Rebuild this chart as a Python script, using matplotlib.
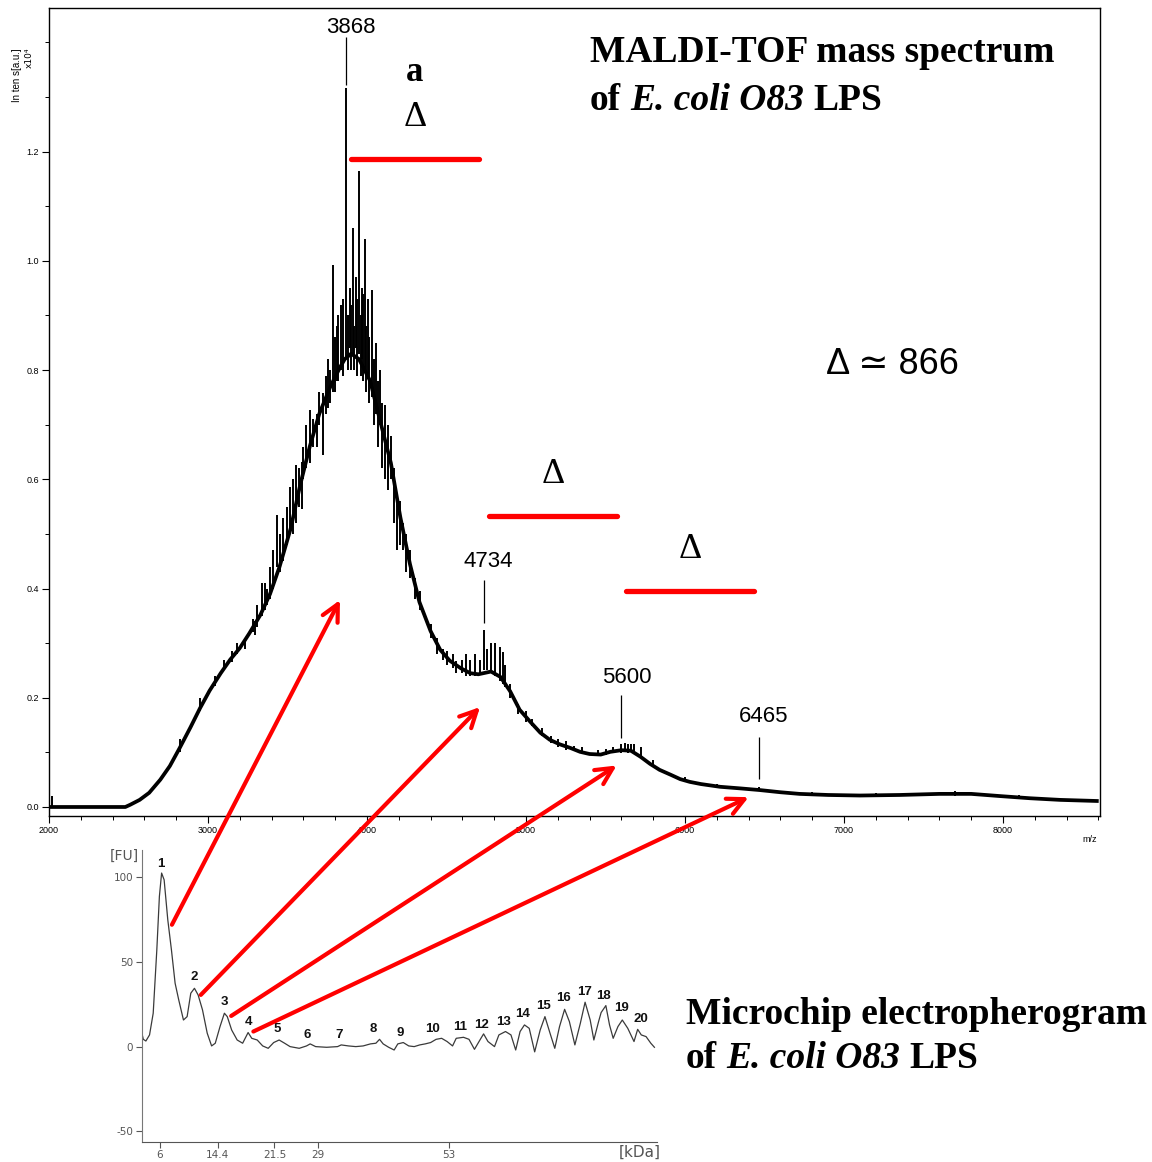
import numpy as np
import matplotlib
matplotlib.use('Agg')
import matplotlib.pyplot as plt
from matplotlib.patches import ConnectionPatch
from matplotlib.ticker import MultipleLocator

# --- MALDI-TOF spectrum: smooth envelope (m/z, intensity x1e4) ---
env_mz = [2000, 2480, 2510, 2570, 2630, 2700, 2760, 2820, 2890, 2950, 3010, 3080,
          3140, 3200, 3260, 3330, 3390, 3450, 3520, 3580, 3640, 3700, 3770, 3830,
          3860, 3900, 3950, 4020, 4080, 4150, 4210, 4270, 4330, 4400, 4460, 4520,
          4590, 4650, 4700, 4780, 4840, 4900, 4960, 5030, 5090, 5150, 5210, 5280,
          5340, 5400, 5470, 5530, 5600, 5660, 5720, 5780, 5840, 5910, 5970, 6030,
          6100, 6220, 6350, 6470, 6600, 6720, 6900, 7100, 7350, 7600, 7800, 7980,
          8170, 8360, 8590]
env_int = [0.0, 0.0, 0.004, 0.013, 0.026, 0.050, 0.075, 0.107, 0.146, 0.181, 0.213, 0.245,
           0.270, 0.291, 0.318, 0.352, 0.390, 0.440, 0.510, 0.590, 0.660, 0.720, 0.770, 0.805,
           0.820, 0.830, 0.820, 0.780, 0.710, 0.630, 0.530, 0.445, 0.375, 0.322, 0.288, 0.268,
           0.254, 0.245, 0.243, 0.248, 0.238, 0.212, 0.178, 0.155, 0.136, 0.123, 0.115, 0.108,
           0.101, 0.097, 0.096, 0.101, 0.104, 0.103, 0.092, 0.079, 0.068, 0.059, 0.051, 0.046,
           0.042, 0.037, 0.034, 0.031, 0.027, 0.024, 0.022, 0.021, 0.022, 0.024, 0.024, 0.020,
           0.016, 0.013, 0.011]

# --- individual spikes on top of the envelope (m/z, low, high) ---
spike_mz = [2003, 2020, 2824, 2950, 3044, 3100, 3151, 3180, 3233, 3280, 3296, 3310,
            3340, 3358, 3370, 3390, 3410, 3434, 3450, 3472, 3495, 3516, 3535, 3553,
            3570, 3591, 3600, 3615, 3642, 3660, 3686, 3700, 3723, 3740, 3755, 3767,
            3786, 3800, 3811, 3820, 3836, 3850, 3868, 3880, 3893, 3900, 3912, 3920,
            3931, 3940, 3950, 3960, 3969, 3975, 3987, 3995, 4006, 4015, 4031, 4045,
            4057, 4070, 4082, 4095, 4113, 4130, 4151, 4170, 4189, 4205, 4226, 4245,
            4270, 4300, 4333, 4400, 4440, 4480, 4500, 4540, 4560, 4600, 4620, 4648,
            4679, 4711, 4736, 4755, 4780, 4805, 4836, 4855, 4868, 4900, 4950, 5000,
            5040, 5100, 5160, 5200, 5250, 5300, 5350, 5450, 5500, 5550, 5597, 5620,
            5640, 5660, 5680, 5722, 5800, 6000, 6200, 6465, 6800, 7200, 7700, 8100]
spike_lo = [0.000, 0.000, 0.100, 0.175, 0.222, 0.250, 0.265, 0.280, 0.290, 0.320, 0.315, 0.330,
            0.350, 0.360, 0.370, 0.380, 0.400, 0.440, 0.430, 0.450, 0.480, 0.500, 0.500, 0.520,
            0.550, 0.545, 0.600, 0.620, 0.630, 0.660, 0.660, 0.700, 0.645, 0.720, 0.730, 0.740,
            0.760, 0.760, 0.780, 0.780, 0.800, 0.790, 0.820, 0.800, 0.840, 0.800, 0.830, 0.800,
            0.840, 0.790, 0.830, 0.790, 0.820, 0.780, 0.800, 0.760, 0.790, 0.740, 0.750, 0.700,
            0.720, 0.660, 0.700, 0.620, 0.600, 0.580, 0.600, 0.520, 0.470, 0.480, 0.470, 0.430,
            0.420, 0.380, 0.360, 0.310, 0.280, 0.270, 0.260, 0.255, 0.245, 0.245, 0.240, 0.240,
            0.240, 0.245, 0.250, 0.250, 0.250, 0.240, 0.230, 0.225, 0.220, 0.200, 0.170, 0.155,
            0.148, 0.130, 0.118, 0.110, 0.105, 0.104, 0.098, 0.094, 0.095, 0.098, 0.098, 0.100,
            0.098, 0.100, 0.098, 0.094, 0.074, 0.045, 0.035, 0.029, 0.021, 0.019, 0.021, 0.016]
spike_hi = [0.456, 0.020, 0.125, 0.200, 0.240, 0.270, 0.285, 0.300, 0.310, 0.345, 0.340, 0.370,
            0.410, 0.410, 0.400, 0.440, 0.470, 0.535, 0.500, 0.530, 0.550, 0.586, 0.600, 0.626,
            0.620, 0.632, 0.660, 0.700, 0.727, 0.710, 0.720, 0.760, 0.758, 0.790, 0.820, 0.800,
            0.993, 0.860, 0.880, 0.900, 0.920, 0.930, 1.317, 0.900, 0.950, 0.920, 1.060, 0.880,
            0.970, 0.930, 1.165, 0.900, 0.950, 0.940, 1.040, 0.880, 0.930, 0.860, 0.947, 0.820,
            0.850, 0.780, 0.800, 0.740, 0.736, 0.700, 0.680, 0.620, 0.560, 0.560, 0.520, 0.500,
            0.470, 0.420, 0.395, 0.335, 0.310, 0.290, 0.285, 0.280, 0.268, 0.270, 0.280, 0.270,
            0.280, 0.270, 0.324, 0.290, 0.300, 0.300, 0.293, 0.284, 0.260, 0.225, 0.188, 0.175,
            0.162, 0.145, 0.130, 0.125, 0.120, 0.112, 0.110, 0.104, 0.107, 0.110, 0.115, 0.118,
            0.115, 0.115, 0.115, 0.110, 0.086, 0.054, 0.042, 0.036, 0.028, 0.026, 0.029, 0.022]

# --- labelled peaks ---
peak_mz = [3868, 4734, 5600, 6465]
peak_line_lo = [1.322, 0.337, 0.126, 0.051]
peak_line_hi = [1.410, 0.416, 0.205, 0.128]
peak_text_y = [1.428, 0.449, 0.238, 0.165]

# --- delta bars (repeat unit) ---
delta_start = [3899, 4767, 5629]
delta_end = [4704, 5572, 6434]
delta_y = [1.187, 0.533, 0.396]
delta_text_y = [1.262, 0.608, 0.471]

# --- microchip electropherogram (migration coordinate, FU) ---
ce_s = [0.00, 0.35, 0.85, 1.56, 2.27, 2.97, 3.47, 3.90, 4.39, 5.10,
        5.81, 6.52, 7.22, 8.14, 8.85, 9.56, 10.27, 10.98, 11.83, 12.75,
        13.60, 14.31, 15.23, 16.08, 16.64, 17.49, 18.56, 19.62, 20.68, 21.39,
        22.45, 23.51, 24.58, 25.64, 26.70, 27.76, 28.82, 30.59, 32.01, 32.72,
        33.78, 35.91, 38.03, 38.74, 40.16, 41.57, 42.99, 44.41, 45.47, 46.18,
        46.88, 47.95, 49.01, 49.72, 50.78, 51.84, 52.90, 53.97, 55.03, 56.09,
        57.15, 58.22, 59.28, 60.34, 61.05, 62.46, 63.53, 64.59, 65.65, 66.36,
        67.21, 68.48, 69.33, 70.61, 71.67, 72.59, 73.44, 74.29, 75.21, 76.27,
        77.34, 78.26, 79.25, 80.17, 81.09, 82.08, 83.00, 84.07, 85.13, 86.05,
        87.04, 87.75, 88.67, 89.16, 90.08, 90.79, 91.50, 92.42, 93.27, 94.33,
        95.54, 96.25, 96.95, 97.88, 98.80, 99.50]
ce_fu = [8.9, 4.3, 3.3, 6.9, 19.7, 57.0, 88.6, 102.4, 98.4, 74.8,
         57.0, 37.4, 27.6, 15.7, 17.7, 31.5, 34.4, 30.5, 21.7, 7.9,
         0.4, 2.0, 11.8, 19.7, 17.7, 9.8, 3.9, 2.0, 8.3, 4.9,
         3.9, 0.4, -1.0, 2.4, 3.9, 2.0, 0.0, -1.0, 0.4, 1.6,
         0.0, -0.4, 0.0, 1.0, 0.4, 0.0, 0.4, 1.6, 2.0, 4.3,
         1.6, -0.4, -2.0, 1.6, 2.4, 0.4, 0.0, 1.0, 1.6, 2.4,
         4.3, 4.9, 3.0, 0.4, 4.9, 5.5, 4.3, -1.6, 3.9, 7.5,
         3.0, 0.0, 6.9, 8.9, 6.9, -2.0, 8.9, 12.8, 10.8, -3.1,
         9.8, 17.7, 7.9, -1.0, 11.8, 22.0, 14.8, 1.0, 13.8, 26.2,
         15.7, 3.9, 14.8, 20.1, 24.2, 12.8, 4.9, 11.8, 15.7, 10.8,
         3.0, 10.2, 6.9, 5.9, 2.0, -0.4]

ce_label_s = [3.7, 10.3, 16.1, 20.7, 26.3, 32.2, 38.4, 44.9, 50.2, 56.4, 61.8, 66.0,
              70.3, 74.0, 78.0, 81.9, 85.9, 89.6, 93.1, 96.8]
ce_label_fu = [108.0, 41.3, 26.6, 14.8, 10.2, 6.9, 6.9, 10.2, 7.9, 10.2, 11.8, 12.8,
               14.8, 19.3, 24.2, 28.5, 32.5, 30.1, 23.0, 16.3]
ce_tick_s = [3.5, 14.8, 25.8, 34.3, 59.6]
ce_tick_labels = ['6', '14.4', '21.5', '29', '53']

# --- arrows: CE peak -> MALDI position ---
arrow_from_s = [5.9, 11.5, 17.4, 21.7]
arrow_from_fu = [71.9, 30.5, 18.1, 8.9]
arrow_to_mz = [3830, 4711, 5570, 6400]
arrow_to_int = [0.379, 0.183, 0.076, 0.018]

W, H = 1152, 1162
fig = plt.figure(figsize=(W / 100, H / 100), dpi=100)


def fpos(x, y):
    return x / W, 1 - y / H


# ---------------- main spectrum ----------------
ax = fig.add_axes([49 / W, 1 - 816 / H, 1051 / W, 808 / H])
ax.plot(env_mz, env_int, color='black', lw=2.7, solid_joinstyle='round')
ax.vlines(spike_mz, spike_lo, spike_hi, color='black', lw=1.4)
ax.set_xlim(2000, 8610)
ax.set_ylim(-0.0165, 1.463)
ax.xaxis.set_major_locator(MultipleLocator(1000))
ax.xaxis.set_minor_locator(MultipleLocator(200))
ax.yaxis.set_minor_locator(MultipleLocator(0.1))
ax.set_yticks([0, 0.2, 0.4, 0.6, 0.8, 1.0, 1.2])
ax.set_yticklabels(['0.0', '0.2', '0.4', '0.6', '0.8', '1.0', '1.2'])
ax.tick_params(which='major', direction='out', length=5, width=0.8, labelsize=6.5, pad=2)
ax.tick_params(which='minor', direction='out', length=3, width=0.7)
for lab in ax.get_xticklabels() + ax.get_yticklabels():
    lab.set_family('Liberation Sans')
for sp in ax.spines.values():
    sp.set_linewidth(1.0)

fig.text(*fpos(17, 75), 'In ten s[a.u.]', rotation=90, ha='center', va='center',
         fontsize=7, family='Liberation Sans')
fig.text(*fpos(29, 58), 'x10\u2074', rotation=90, ha='center', va='center',
         fontsize=6.5, family='DejaVu Sans')
fig.text(*fpos(1090, 840), 'm/z', ha='center', va='center', fontsize=6.5,
         family='Liberation Sans')

# peak labels
ax.vlines(peak_mz, peak_line_lo, peak_line_hi, color='black', lw=0.9)
for m, ty in zip(peak_mz, peak_text_y):
    ax.annotate(str(m), xy=(m, ty), xytext=(5, 0), textcoords='offset pixels',
                ha='center', va='center', fontsize=16, family='Liberation Sans')

# delta bars
for s, e, y, ty in zip(delta_start, delta_end, delta_y, delta_text_y):
    ax.plot([s, e], [y, y], color='#ff0000', lw=3.8, solid_capstyle='round')
    ax.text((s + e) / 2, ty, '\u0394', ha='center', va='center', fontsize=26,
            family='Liberation Serif')
ax.text(4296, 1.345, 'a', ha='center', va='center', fontsize=25,
        family='Liberation Serif', weight='bold')

fig.text(*fpos(826, 364), '\u0394 \u2243 866', ha='left', va='center', fontsize=26,
         family=['Liberation Sans', 'DejaVu Sans'])


def text_runs(x, y, runs, size=27):
    prev = fig.text(*fpos(x, y), runs[0][0], ha='left', va='center', fontsize=size,
                    family='Liberation Serif', weight='bold', style=runs[0][1])
    for s, st in runs[1:]:
        prev = ax.annotate(s, xy=(1, 0), xycoords=prev, xytext=(9, 0),
                           textcoords='offset pixels', ha='left', va='bottom',
                           fontsize=size, family='Liberation Serif', weight='bold',
                           style=st, annotation_clip=False)


text_runs(590, 53, [('MALDI-TOF mass spectrum', 'normal')])
text_runs(590, 100, [('of', 'normal'), ('E. coli O83', 'italic'), ('LPS', 'normal')])
text_runs(686, 1015, [('Microchip electropherogram', 'normal')])
text_runs(686, 1058, [('of', 'normal'), ('E. coli O83', 'italic'), ('LPS', 'normal')])

# ---------------- electropherogram inset ----------------
gray = '#555555'
ax2 = fig.add_axes([141.5 / W, 1 - 1141.7 / H, 515.5 / W, 291.7 / H])
ax2.plot(ce_s, ce_fu, color='#3a3a3a', lw=0.9)
ax2.set_xlim(0, 100)
ax2.set_ylim(-56.1, 116)
ax2.set_xticks(ce_tick_s)
ax2.set_xticklabels(ce_tick_labels)
ax2.set_yticks([-50, 0, 50, 100])
ax2.set_yticklabels(['-50', '0', '50', '100'])
ax2.tick_params(direction='out', length=4, width=0.8, colors=gray, labelsize=7.5, pad=2)
ax2.spines['top'].set_visible(False)
ax2.spines['right'].set_visible(False)
ax2.spines['left'].set_color('#777777')
ax2.spines['bottom'].set_color('#555555')
ax2.patch.set_alpha(0)
for i, (s, f) in enumerate(zip(ce_label_s, ce_label_fu), start=1):
    ax2.text(s, f, str(i), ha='center', va='center', fontsize=9.5,
             family='Liberation Sans', weight='bold', color='#111111')
fig.text(*fpos(124, 856), '[FU]', ha='center', va='center', fontsize=10, color=gray)
fig.text(*fpos(640, 1152), '[kDa]', ha='center', va='center', fontsize=11, color=gray)

# ---------------- red arrows ----------------
for s, f, m, i in zip(arrow_from_s, arrow_from_fu, arrow_to_mz, arrow_to_int):
    con = ConnectionPatch(xyA=(s, f), coordsA=ax2.transData, xyB=(m, i), coordsB=ax.transData,
                          arrowstyle='->,head_length=0.6,head_width=0.3', mutation_scale=20,
                          color='#ff0000', lw=3, zorder=10)
    fig.add_artist(con)

fig.savefig('out.png', dpi=100)
